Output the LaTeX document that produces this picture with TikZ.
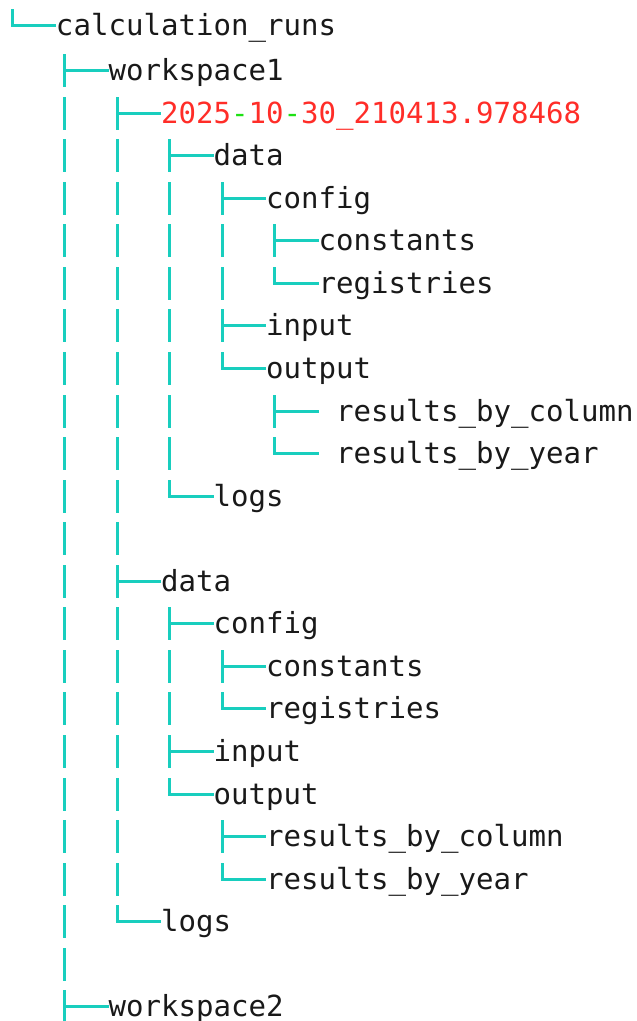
\documentclass[tikz,border=0pt]{standalone}
\usepackage{fontspec}
\newfontfamily\treefont{DejaVu Sans Mono}
\definecolor{treeline}{RGB}{24,206,190}
\definecolor{txt}{RGB}{25,25,25}
\definecolor{datered}{RGB}{255,45,40}
\definecolor{dashgreen}{RGB}{30,225,20}
\begin{document}
\begin{tikzpicture}[x=1pt,y=-1pt,
  tline/.style={draw=treeline, line width=2.8pt},
  lbl/.style={anchor=base west, inner sep=0pt, outer sep=0pt,
    font=\treefont\fontsize{29.07}{30}\selectfont, text=txt}]
\useasboundingbox (0,0) rectangle (637,1021);
% text nodes: row / text column / content
\foreach \r/\c/\t in {
  0/3/{calculation\_runs},
  1/6/{workspace1},
  2/9/{\color{datered}2025\textcolor{dashgreen}{-}10\textcolor{dashgreen}{-}30\_210413.978468},
  3/12/{data},
  4/15/{config},
  5/18/{constants},
  6/18/{registries},
  7/15/{input},
  8/15/{output},
  9/19/{results\_by\_column},
  10/19/{results\_by\_year},
  11/12/{logs},
  13/9/{data},
  14/12/{config},
  15/15/{constants},
  16/15/{registries},
  17/12/{input},
  18/12/{output},
  19/15/{results\_by\_column},
  20/15/{results\_by\_year},
  21/9/{logs},
  23/6/{workspace2}}{
  \pgfmathsetmacro\yy{\r==0 ? 25.5 : floor(28.1+42.55*\r)+0.5}
  \pgfmathsetmacro\xx{3.5+17.5*\c}
  \node[lbl] (n\r) at (\xx,\yy+10.3) {\t};
}
% plain vertical bars: row / columns
\foreach \r/\cols in {2/{3}, 3/{3,6}, 4/{3,6,9}, 5/{3,6,9,12}, 6/{3,6,9,12},
  7/{3,6,9}, 8/{3,6,9}, 9/{3,6,9}, 10/{3,6,9}, 11/{3,6}, 12/{3,6},
  13/{3}, 14/{3,6}, 15/{3,6,9}, 16/{3,6,9}, 17/{3,6}, 18/{3,6},
  19/{3,6}, 20/{3,6}, 21/{3}, 22/{3}}{
  \pgfmathsetmacro\yy{floor(28.1+42.55*\r)+0.5}
  \foreach \c in \cols {
    \pgfmathsetmacro\xx{floor(12.25+17.5*\c)+0.5}
    \draw[tline] (\xx,\yy-16.5) -- (\xx,\yy+16.5);
  }
}
% tee connectors: row / column / end x of horizontal
\foreach \r/\c/\e in {1/3/108.5, 2/6/161, 3/9/213.5, 4/12/266, 5/15/318.5,
  7/12/266, 9/15/318.5, 13/6/161, 14/9/213.5, 15/12/266, 17/9/213.5,
  19/12/266, 23/3/108.5}{
  \pgfmathsetmacro\yy{floor(28.1+42.55*\r)+0.5}
  \pgfmathsetmacro\xx{floor(12.25+17.5*\c)+0.5}
  \draw[tline] (\xx,\yy-16.5) -- (\xx,\yy+16.5);
  \draw[tline] (\xx-1.4,\yy) -- (\e,\yy);
}
% corner connectors: row / column / end x of horizontal
\foreach \r/\c/\e in {0/0/56, 6/15/318.5, 8/12/266, 10/15/318.5, 11/9/213.5,
  16/12/266, 18/9/213.5, 20/12/266, 21/6/161}{
  \pgfmathsetmacro\yy{\r==0 ? 25.5 : floor(28.1+42.55*\r)+0.5}
  \pgfmathsetmacro\xx{floor(12.25+17.5*\c)+0.5}
  \draw[tline] (\xx,\yy-16.5) -- (\xx,\yy) -- (\e,\yy);
}
\end{tikzpicture}
\end{document}
